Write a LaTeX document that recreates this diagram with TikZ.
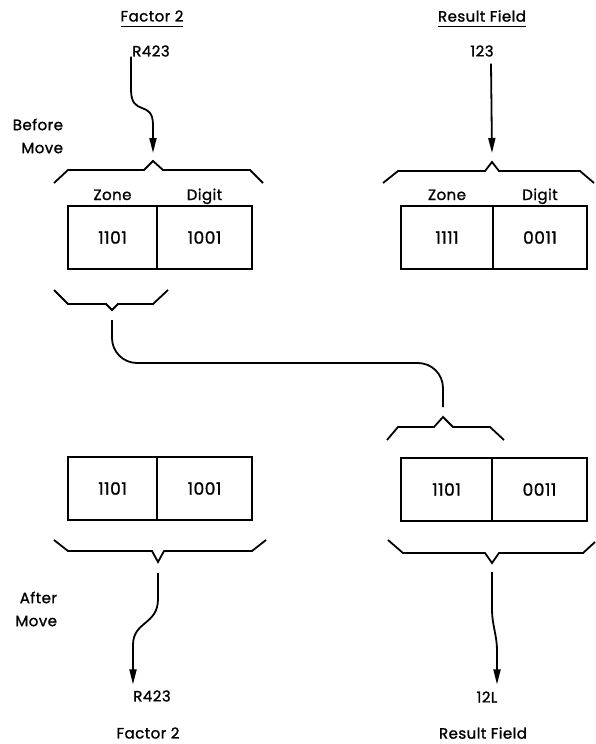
\documentclass[tikz,border=0pt]{standalone}
\usepackage{fontspec}
\setmainfont{Poppins}[FakeBold=1.2,LetterSpace=3]
\usetikzlibrary{arrows.meta,calc}
\begin{document}
\begin{tikzpicture}[x=1pt,y=-1pt,
  every node/.style={inner sep=0pt,outer sep=0pt},
  txt/.style={font=\fontsize{15}{23}\selectfont},
  cell/.style={draw,line width=1.8pt,minimum height=63pt,anchor=north west,
               font=\fontsize{17}{19}\selectfont},
  bracepath/.style={line width=1.8pt,line join=miter},
  link/.style={line width=1.8pt},
  arr/.style={line width=1.8pt,-{Triangle[length=15pt,width=7pt]}},
  uline/.style={line width=1.4pt}]
\useasboundingbox (0,0) rectangle (595,744);

% column headings
\node[txt] (f2top) at (152,16) {Factor 2};
\draw[uline] ([yshift=-5pt]f2top.south west) -- ([yshift=-5pt]f2top.south east);
\node[txt] (rftop) at (482,16) {Result Field};
\draw[uline] ([yshift=-5pt]rftop.south west) -- ([yshift=-5pt]rftop.south east);
\node[txt] (r423top) at (151,51) {R423};
\node[txt] (n123) at (482,51) {123};

\node[txt,align=right,anchor=east] (before) at (63,136) {Before\\Move};
\node[txt,align=right,anchor=east] (after) at (57,609) {After\\Move};

% before move: storage positions
\node[cell,minimum width=89pt] (tlz) at (68,206) {1101};
\node[cell,minimum width=95pt] (tld) at (tlz.north east) {1001};
\node[cell,minimum width=92pt] (trz) at (401,206) {1111};
\node[cell,minimum width=94pt] (trd) at (trz.north east) {0011};

\node[txt,anchor=base] (tlzl) at ($(tlz.north)+(0,-6)$) {Zone};
\node[txt,anchor=base] (tldl) at ($(tld.north)+(0,-6)$) {Digit};
\node[txt,anchor=base] (trzl) at ($(trz.north)+(0,-6)$) {Zone};
\node[txt,anchor=base] (trdl) at ($(trd.north)+(0,-6)$) {Digit};

% after move: storage positions
\node[cell,minimum width=89pt] (blz) at (68,457) {1101};
\node[cell,minimum width=95pt] (bld) at (blz.north east) {1001};
\node[cell,minimum width=91pt] (brz) at (401,458) {1101};
\node[cell,minimum width=95pt] (brd) at (brz.north east) {0011};

% bottom labels
\node[txt] (r423bot) at (152,696) {R423};
\node[txt] (f2bot) at (148,733) {Factor 2};
\node[txt] (n12l) at (487,697) {12L};
\node[txt] (rfbot) at (483,733) {Result Field};

% braces
\coordinate (tlpk) at (153,161);
\coordinate (trpk) at (492,162);
\coordinate (smtip) at (112,310);
\coordinate (lrpk) at (443,417);
\coordinate (bltip) at (158,562);
\coordinate (brtip) at (492,563);

\draw[bracepath] (54,183) -- (68,170) -- (144,170) -- (tlpk) -- (163,170) -- (250,170) -- (263,183);
\draw[bracepath] (383,183) -- (398,171) -- (485,171) -- (trpk) -- (499,171) -- (580,171) -- (594,183);
\draw[bracepath] (54,290) -- (68,304) -- (106,304) -- (smtip) -- (118,304) -- (153,304) -- (168,290);
\draw[bracepath] (387,440) -- (398,427) -- (434,427) -- (lrpk) -- (453,427) -- (490,427) -- (504,440);
\draw[bracepath] (54,540) -- (68,551) -- (152,551) -- (bltip) -- (164,551) -- (252,551) -- (266,540);
\draw[bracepath] (388,540) -- (403,553) -- (485,553) -- (brtip) -- (499,553) -- (583,553) -- (595,542);

% connectors
\draw[arr] ([xshift=-20pt]r423top.south) -- ++(0,33)
  .. controls +(0,28) and +(0,-26) .. ($(tlpk)+(0,-36)$) -- ($(tlpk)+(0,-8)$);
\draw[arr] ($(n123.south)+(9,7)$) -- ($(trpk)+(0,-9)$);

\coordinate (zs) at ($(smtip)+(0,10)$);
\coordinate (ze) at ($(lrpk)+(0,-10)$);
\coordinate (zmid) at (280,363);
\draw[link,rounded corners=25pt] (zs) |- (zmid) -| (ze);

\draw[arr] ($(bltip)+(0,11)$) -- ++(0,26)
  .. controls +(0,26) and +(0,-24) .. (133,645) -- ([xshift=-19pt,yshift=6pt]r423bot.north);
\draw[arr] ($(brtip)+(0,9)$) -- ++(0,38)
  .. controls +(0,14) and +(0,-14) .. (497,650) -- ([xshift=10pt,yshift=7pt]n12l.north);
\end{tikzpicture}
\end{document}
